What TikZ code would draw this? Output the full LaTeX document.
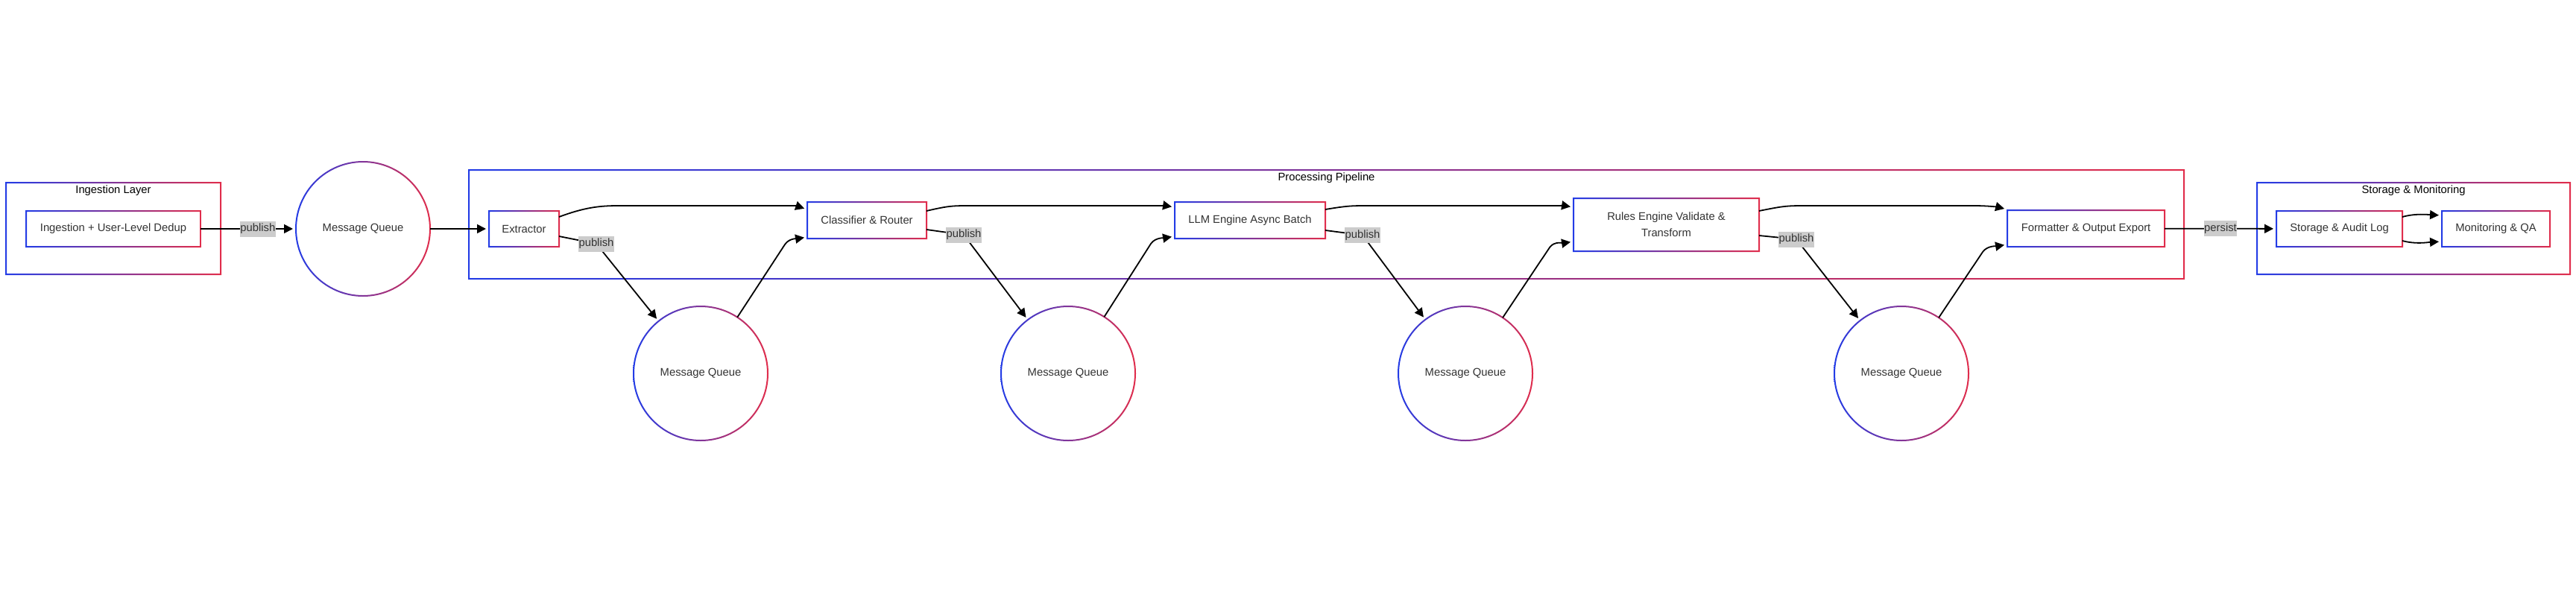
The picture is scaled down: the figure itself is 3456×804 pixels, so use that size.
\documentclass[tikz,border=0pt]{standalone}
\usepackage{fontspec}
\setmainfont{Liberation Sans}
\usetikzlibrary{arrows.meta,calc}
\definecolor{cb}{HTML}{233CE6}
\definecolor{cr}{HTML}{E12D4B}
\definecolor{txt}{HTML}{333333}
\definecolor{lblbg}{HTML}{CCCCCC}
\newcommand\gframe[1]{%
  \shade[left color=cb,right color=cr,even odd rule]
    ([xshift=-1pt,yshift=1pt]#1.north west) rectangle ([xshift=1pt,yshift=-1pt]#1.south east)
    ([xshift=1pt,yshift=-1pt]#1.north west) rectangle ([xshift=-1pt,yshift=1pt]#1.south east);}
\newcommand\gring[1]{%
  \shade[left color=cb,right color=cr,even odd rule]
    (#1.center) circle[radius=91pt] (#1.center) circle[radius=89pt];}
\begin{document}
\begin{tikzpicture}[x=1pt,y=-1pt,
  box/.style={rectangle, fill=white, inner sep=0pt, outer sep=0pt, text=txt,
    font=\fontsize{14.8}{22}\selectfont, align=center},
  grp/.style={rectangle, inner sep=0pt, outer sep=0pt},
  queue/.style={circle, fill=white, minimum size=180pt, inner sep=0pt, outer sep=0pt,
    text=txt, font=\fontsize{14.8}{18}\selectfont},
  ttl/.style={text=black, font=\fontsize{14.8}{18}\selectfont, inner sep=0pt},
  lbl/.style={fill=lblbg, text=txt, font=\fontsize{14.8}{18}\selectfont,
    inner xsep=0.6pt, inner ysep=0pt, minimum height=21pt},
  conn/.style={line width=1.8pt, draw=black, line join=round, shorten >=4pt,
    -{Triangle[length=12pt,width=12pt]}}
]
\fill[white] (0,0) rectangle (3456,804);
\useasboundingbox (0,0) rectangle (3456,804);

% containers
\node[grp, minimum width=288pt, minimum height=123pt] (ingL) at (152,306.5) {};
\node[grp, minimum width=2301pt, minimum height=146pt] (pipe) at (1779.5,301) {};
\node[grp, minimum width=420pt, minimum height=123pt] (stor) at (3238,306.5) {};
\gframe{ingL}\gframe{pipe}\gframe{stor}
\node[ttl] (tIng) at ($(ingL.north)+(0,11)$) {Ingestion Layer};
\node[ttl] (tPipe) at ($(pipe.north)+(0,11)$) {Processing Pipeline};
\node[ttl] (tStor) at ($(stor.north)+(0,11)$) {Storage \& Monitoring};

% boxes
\node[box, minimum width=234pt, minimum height=48pt] (ing) at (152,307) {Ingestion + User-Level Dedup};
\node[box, minimum width=94pt, minimum height=48pt] (ext) at (703,307) {Extractor};
\node[box, minimum width=160pt, minimum height=49pt] (cls) at (1163,295.5) {Classifier \& Router};
\node[box, minimum width=202pt, minimum height=49pt] (llm) at (1677,295.5) {LLM Engine Async Batch};
\node[box, minimum width=249pt, minimum height=71pt] (rul) at (2235.5,301.5) {Rules Engine Validate \&\\Transform};
\node[box, minimum width=211pt, minimum height=49pt] (fmt) at (2798.5,306.5) {Formatter \& Output Export};
\node[box, minimum width=169pt, minimum height=48pt] (sal) at (3138.5,307) {Storage \& Audit Log};
\node[box, minimum width=145pt, minimum height=48pt] (mon) at (3348.5,307) {Monitoring \& QA};
\gframe{ing}\gframe{ext}\gframe{cls}\gframe{llm}\gframe{rul}\gframe{fmt}\gframe{sal}\gframe{mon}

% queues
\node[queue] (mq1) at (487,307) {Message Queue};
\node[queue] (mq2) at (940,501) {Message Queue};
\node[queue] (mq3) at (1433,501) {Message Queue};
\node[queue] (mq4) at (1966,501) {Message Queue};
\node[queue] (mq5) at (2551,501) {Message Queue};
\gring{mq1}\gring{mq2}\gring{mq3}\gring{mq4}\gring{mq5}

% edges
\draw[conn] (ing) -- node[lbl, pos=0.6]{publish} (mq1);
\draw[conn] (mq1) -- (ext);

% extractor stage
\draw[conn] ($(ext.east)+(0,-16)$) .. controls +(35,-13) and +(-25,0) .. ($(ext.east)+(80,-31)$)
  -- ($(cls.west)+(-40,-19.5)$) .. controls +(25,0) and +(-15,-5) .. ($(cls.west)+(0,-14.5)$);
\draw[conn] ($(ext.east)+(0,10)$) -- ($(ext.east)+(50,20)$) node[lbl]{publish} -- (mq2);
\draw[conn] (mq2) -- ($(cls.south west)+(-30,8)$) .. controls +(6,-9) and +(-12,2) .. ($(cls.south west)+(0,-2)$);

% classifier stage
\draw[conn] ($(cls.east)+(0,-12.5)$) .. controls +(30,-7) and +(-25,0) .. ($(cls.east)+(60,-19.5)$)
  -- ($(llm.west)+(-35,-19.5)$) .. controls +(20,0) and +(-12,-2) .. ($(llm.west)+(0,-17.5)$);
\draw[conn] ($(cls.east)+(0,12.5)$) -- ($(cls.east)+(50,19.5)$) node[lbl]{publish} -- (mq3);
\draw[conn] (mq3) -- ($(llm.south west)+(-32,7)$) .. controls +(6,-9) and +(-12,2) .. ($(llm.south west)+(0,-3)$);

% llm stage
\draw[conn] ($(llm.east)+(0,-14.5)$) .. controls +(30,-5) and +(-25,0) .. ($(llm.east)+(60,-19.5)$)
  -- ($(rul.west)+(-40,-25.5)$) .. controls +(20,0) and +(-12,-2) .. ($(rul.west)+(0,-23.5)$);
\draw[conn] ($(llm.east)+(0,13.5)$) -- ($(llm.east)+(50,20)$) node[lbl]{publish} -- (mq4);
\draw[conn] (mq4) -- ($(rul.south west)+(-32,-5)$) .. controls +(6,-9) and +(-12,2) .. ($(rul.south west)+(0,-13)$);

% rules stage
\draw[conn] ($(rul.east)+(0,-18.5)$) .. controls +(30,-6) and +(-25,0) .. ($(rul.east)+(60,-25.5)$)
  -- ($(fmt.west)+(-45,-30.5)$) .. controls +(20,0) and +(-12,-3) .. ($(fmt.west)+(0,-25.5)$);
\draw[conn] ($(rul.east)+(0,14.5)$) -- ($(rul.east)+(50,19.5)$) node[lbl]{publish} -- (mq5);
\draw[conn] (mq5) -- ($(fmt.south west)+(-33,7)$) .. controls +(6,-9) and +(-12,2) .. ($(fmt.south west)+(0,-3)$);

% storage
\draw[conn] (fmt) -- node[lbl]{persist} (sal);
\draw[conn] ($(sal.east)+(0,-16)$) .. controls +(18,-5) and +(-18,-1) .. ($(mon.west)+(0,-18)$);
\draw[conn] ($(sal.east)+(0,16)$) .. controls +(18,5) and +(-18,1) .. ($(mon.west)+(0,17)$);
\end{tikzpicture}
\end{document}
